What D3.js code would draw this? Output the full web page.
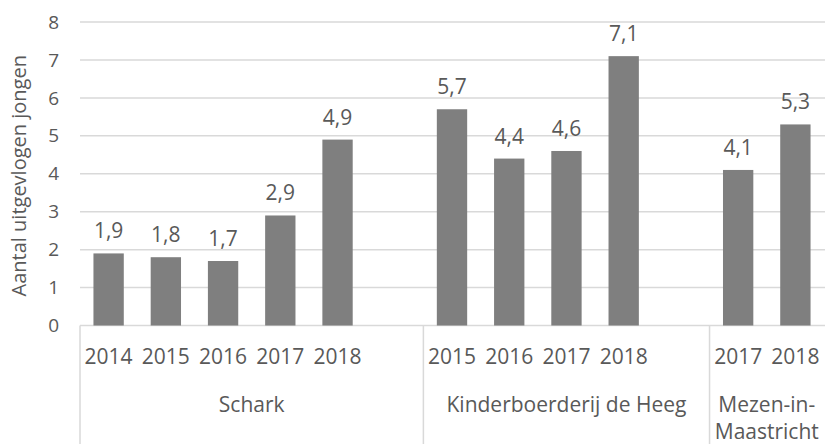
<!DOCTYPE html>
<html>
<head>
<meta charset="utf-8">
<script src="https://cdn.jsdelivr.net/npm/d3@7"></script>
<style>
  body { margin: 0; background: #fff; }
  text { font-family: "Open Sans", sans-serif; fill: #595959; }
</style>
</head>
<body>
<svg width="825" height="444"></svg>
<script>
// chart data
var groupNames = ["Schark", "Kinderboerderij de Heeg", "Mezen-in-|Maastricht"];
var groupYears = [
  ["2014", "2015", "2016", "2017", "2018"],
  ["2015", "2016", "2017", "2018"],
  ["2017", "2018"]
];
var groupValues = [
  [1.9, 1.8, 1.7, 2.9, 4.9],
  [5.7, 4.4, 4.6, 7.1],
  [4.1, 5.3]
];
var yTicks = [0, 1, 2, 3, 4, 5, 6, 7, 8];
var yTitle = "Aantal uitgevlogen jongen";

var width = 825, height = 444;
var plotLeft = 80, plotRight = 824, plotTop = 22, plotBottom = 325.5;
var barFrac = 0.53;
var fmt = function(v) { return d3.format(".1f")(v).replace(".", ","); };

// flat list of slots, a blank slot after every group but the last
var slots = [];
var groupStart = [];
groupNames.forEach(function(g, gi) {
  groupStart.push(slots.length);
  groupYears[gi].forEach(function(y, i) {
    slots.push({key: gi + "-" + y, group: gi, year: y, value: groupValues[gi][i]});
  });
  if (gi < groupNames.length - 1) slots.push({key: gi + "-blank", group: gi, year: null, value: null});
});

var x = d3.scaleBand().domain(slots.map(function(d) { return d.key; })).range([plotLeft, plotRight]).padding(0);
var y = d3.scaleLinear().domain([0, 8]).range([plotBottom, plotTop]);

var svg = d3.select("svg");

// gridlines
svg.append("g").selectAll("line").data(yTicks).enter().append("line")
  .attr("x1", plotLeft).attr("x2", width)
  .attr("y1", function(d) { return y(d); }).attr("y2", function(d) { return y(d); })
  .attr("stroke", "#d9d9d9").attr("stroke-width", 1.5);

// y tick labels
svg.append("g").selectAll("text").data(yTicks).enter().append("text")
  .attr("x", 59).attr("y", function(d) { return y(d); })
  .attr("dy", "0.35em").attr("text-anchor", "end")
  .attr("font-size", 19)
  .text(function(d) { return d; });

// y title
svg.append("text")
  .attr("transform", "translate(26," + ((plotTop + plotBottom) / 2 + 2) + ") rotate(-90)")
  .attr("text-anchor", "middle").attr("font-size", 20)
  .text(yTitle);

var data = slots.filter(function(d) { return d.value !== null; });
var bw = x.bandwidth() * barFrac;
var off = (x.bandwidth() - bw) / 2;

// bars
svg.append("g").selectAll("rect").data(data).enter().append("rect")
  .attr("x", function(d) { return x(d.key) + off; })
  .attr("width", bw)
  .attr("y", function(d) { return y(d.value); })
  .attr("height", function(d) { return y(0) - y(d.value); })
  .attr("fill", "#7f7f7f");

// value labels
svg.append("g").selectAll("text").data(data).enter().append("text")
  .attr("x", function(d) { return x(d.key) + x.bandwidth() / 2; })
  .attr("y", function(d) { return y(d.value) - 15; })
  .attr("text-anchor", "middle").attr("font-size", 21)
  .text(function(d) { return fmt(d.value); });

// year labels
svg.append("g").selectAll("text").data(data).enter().append("text")
  .attr("x", function(d) { return x(d.key) + x.bandwidth() / 2; })
  .attr("y", 357).attr("dy", "0.35em")
  .attr("text-anchor", "middle").attr("font-size", 21)
  .text(function(d) { return d.year; });

// group separators
var seps = groupStart.map(function(i) { return x(slots[i].key); });
svg.append("g").selectAll("line").data(seps).enter().append("line")
  .attr("x1", function(d) { return d; }).attr("x2", function(d) { return d; })
  .attr("y1", plotBottom).attr("y2", height)
  .attr("stroke", "#d9d9d9").attr("stroke-width", 1.5);

// group labels
groupNames.forEach(function(g, gi) {
  var x0 = seps[gi];
  var x1 = gi < groupNames.length - 1 ? seps[gi + 1] : plotRight;
  var lines = g.split("|");
  var t = svg.append("text").attr("text-anchor", "middle").attr("font-size", 21);
  lines.forEach(function(l, li) {
    t.append("tspan").attr("x", (x0 + x1) / 2).attr("y", 405 + li * 27).attr("dy", "0.35em").text(l);
  });
});
</script>
</body>
</html>
